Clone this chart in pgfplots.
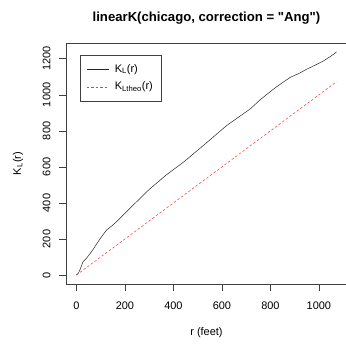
\documentclass[border=0pt]{standalone}
\usepackage{fontspec}
\setmainfont{Liberation Sans}[Ligatures=TeXOff]
\usepackage{pgfplots}
\pgfplotsset{compat=1.18}
\begin{document}
\begin{tikzpicture}
\path[use as bounding box] (-66bp,-61bp) rectangle (280bp,284bp);
\begin{axis}[
  at={(0,0)}, anchor=south west,
  scale only axis, width=281bp, height=241bp,
  xmin=-42.9, xmax=1115.9, ymin=-49.5, ymax=1287.5,
  axis line style={draw=black!75, line width=0.6bp},
  tick style={draw=black!75, line width=0.6bp},
  tick align=outside, major tick length=7bp,
  xtick pos=bottom, ytick pos=left,
  xtick={0,200,400,600,800,1000},
  ytick={0,200,400,600,800,1000,1200},
  /pgf/number format/assume math mode=true,
  /pgf/number format/1000 sep={},
  tick label style={font=\fontsize{11}{12}\selectfont},
  xticklabel style={yshift=-7bp},
  yticklabel style={xshift=-5bp, rotate=90, anchor=south},
  xlabel={r (feet)}, ylabel={K\textsubscript{L}(r)},
  label style={font=\fontsize{11}{12}\selectfont},
  xlabel style={at={(axis description cs:0.5,-0.2)}, anchor=center},
  ylabel style={at={(axis description cs:-0.171,0.5)}, anchor=center, rotate=0},
  title={linearK(chicago, correction = "Ang")},
  title style={font=\bfseries\fontsize{13.2}{15}\selectfont, at={(axis description cs:0.5,1.08)}, anchor=center},
  legend style={at={(axis description cs:0.05,0.95)}, anchor=north west,
    draw=black!75, line width=0.6bp, font=\fontsize{11}{12}\selectfont,
    inner xsep=6bp, inner ysep=7bp, row sep=3bp, column sep=4bp,
    nodes={inner sep=2bp, text height=8bp, text depth=2.5bp}},
  legend cell align=left,
  legend image code/.code={\draw[#1] (0bp,0bp) -- (22bp,0bp);},
]
\addplot[black!85, line width=0.5bp] coordinates {
(0,0) (8,10) (15,30) (22,55) (27,74) (35,85) (41,92) (50,108) (62,129)
(75,155) (89,184) (105,215) (124,249) (145,272) (165,295) (182,318)
(199,341) (222,372) (247,405) (268,432) (289,461) (315,492) (344,525)
(370,555) (400,585) (442,627) (480,670) (520,715) (580,784) (620,830)
(660,868) (717,922) (760,975) (814,1033) (850,1068) (882,1097) (920,1120)
(951,1143) (990,1168) (1020,1189) (1050,1215) (1073,1238)
};
\addlegendentry{K\textsubscript{L}(r)}
\addplot[red!80, line width=0.5bp, dash pattern=on 2.5bp off 2bp] coordinates {
(0,0) (1073,1073)
};
\addlegendentry{K\textsubscript{Ltheo}(r)}
\end{axis}
\end{tikzpicture}
\end{document}
